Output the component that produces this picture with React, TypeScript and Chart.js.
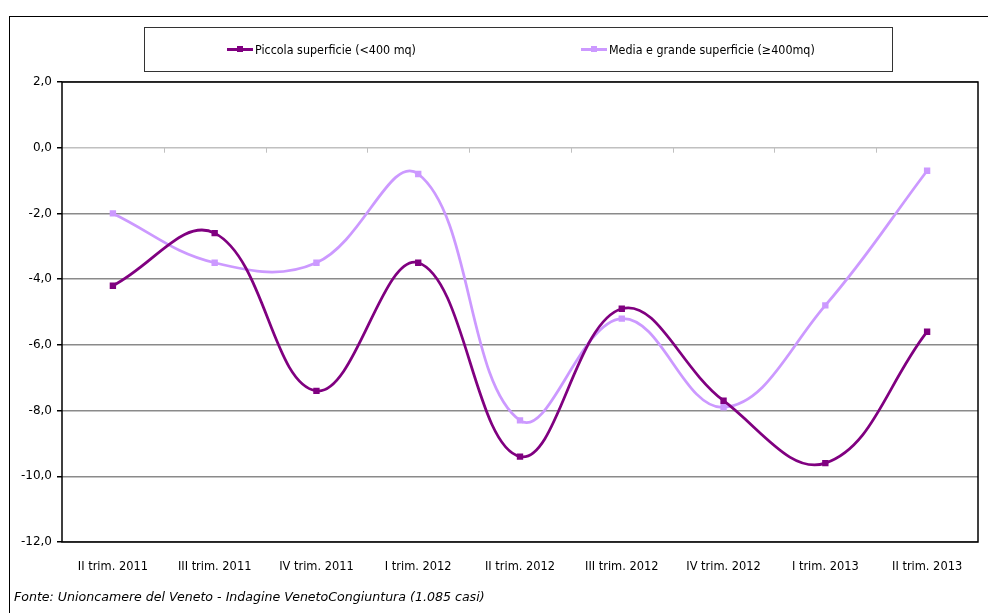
import React, { useEffect, useRef } from "react";
import { Chart, registerables } from "chart.js";

Chart.register(...registerables);

const categories = [
  "II trim. 2011",
  "III trim. 2011",
  "IV trim. 2011",
  "I trim. 2012",
  "II trim. 2012",
  "III trim. 2012",
  "IV trim. 2012",
  "I trim. 2013",
  "II trim. 2013",
];
const piccola = [-4.2, -2.6, -7.4, -3.5, -9.4, -4.9, -7.7, -9.6, -5.6];
const mediaGrande = [-2.0, -3.5, -3.5, -0.8, -8.3, -5.2, -7.9, -4.8, -0.7];
const seriesNames = ["Piccola superficie (<400 mq)", "Media e grande superficie (\u2265400mq)"];
const seriesColors = ["#800080", "#cc99ff"];
const footerText = "Fonte: Unioncamere del Veneto - Indagine VenetoCongiuntura (1.085 casi)";

const FONT_C = "'DejaVu Sans Condensed', 'DejaVu Sans', sans-serif";
const FONT = "'DejaVu Sans', sans-serif";

const framePlugin = {
  id: "frame",
  afterDatasetsDraw(chart: any) {
    const { ctx, chartArea, scales } = chart;
    const x = scales.x;
    const y = scales.y;
    ctx.save();
    const y0 = y.getPixelForValue(0);
    ctx.strokeStyle = "#c0c0c0";
    ctx.lineWidth = 1;
    for (let i = 0; i < categories.length - 1; i++) {
      const px = Math.round((x.getPixelForValue(i) + x.getPixelForValue(i + 1)) / 2) + 0.5;
      ctx.beginPath();
      ctx.moveTo(px, y0);
      ctx.lineTo(px, y0 + 5);
      ctx.stroke();
    }
    ctx.strokeStyle = "#000";
    ctx.lineWidth = 1.5;
    ctx.strokeRect(chartArea.left, chartArea.top, chartArea.right - chartArea.left, chartArea.bottom - chartArea.top);
    ctx.restore();
  },
};

function LegendItem({ color, label, left }: { color: string; label: string; left: number }) {
  return (
    <div style={{ position: "absolute", left, top: 40, height: 18, display: "flex", alignItems: "center" }}>
      <div style={{ position: "relative", width: 26, height: 18, marginRight: 2 }}>
        <div style={{ position: "absolute", left: 0, top: 7.5, width: 26, height: 3, background: color }} />
        <div style={{ position: "absolute", left: 10, top: 6, width: 6, height: 6, background: color }} />
      </div>
      <span style={{ font: `12.4px ${FONT_C}`, color: "#000", whiteSpace: "nowrap" }}>{label}</span>
    </div>
  );
}

export default function App() {
  const canvasRef = useRef<HTMLCanvasElement | null>(null);

  useEffect(() => {
    if (!canvasRef.current) return;
    const chart = new Chart(canvasRef.current, {
      type: "line",
      data: {
        labels: categories,
        datasets: [
          {
            label: seriesNames[0],
            data: piccola,
            borderColor: seriesColors[0],
            backgroundColor: seriesColors[0],
            borderWidth: 2.75,
            pointStyle: "rect",
            pointRadius: 4.5,
            pointBorderWidth: 0,
            tension: 0.4,
          },
          {
            label: seriesNames[1],
            data: mediaGrande,
            borderColor: seriesColors[1],
            backgroundColor: seriesColors[1],
            borderWidth: 2.75,
            pointStyle: "rect",
            pointRadius: 4.5,
            pointBorderWidth: 0,
            tension: 0.4,
          },
        ],
      },
      options: {
        animation: false,
        responsive: false,
        layout: { padding: { left: 0, top: 82, right: 10, bottom: 0 } },
        plugins: { legend: { display: false }, tooltip: { enabled: false } },
        scales: {
          x: {
            offset: true,
            grid: { display: false, drawTicks: false },
            border: { display: false },
            ticks: { color: "#000", font: { family: FONT_C, size: 12.7 }, padding: 17, maxRotation: 0, autoSkip: false },
            afterFit: (s: any) => {
              s.height = 71;
            },
          },
          y: {
            min: -12,
            max: 2,
            grid: {
              color: (c: any) => (c.tick && c.tick.value === 0 ? "#c0c0c0" : "#8a8a8a"),
              lineWidth: 1.5,
              tickColor: "#000",
              tickLength: 5,
            },
            border: { display: false },
            ticks: {
              stepSize: 2,
              color: "#000",
              padding: 5,
              font: { family: FONT, size: 12 },
              callback: (v: any) => Number(v).toFixed(1).replace(".", ","),
            },
            afterFit: (s: any) => {
              s.width = 62;
            },
          },
        },
      },
      plugins: [framePlugin],
    });
    return () => chart.destroy();
  }, []);

  return (
    <div style={{ position: "absolute", left: 0, top: 0, width: 988, height: 613, overflow: "hidden", background: "#fff" }}>
      <div style={{ position: "absolute", left: 9, top: 16, width: 1200, height: 1000, borderLeft: "1.5px solid #000", borderTop: "1.5px solid #000" }} />
      <canvas ref={canvasRef} width={988} height={613} style={{ position: "absolute", left: 0, top: 0, width: 988, height: 613 }} />
      <div style={{ position: "absolute", left: 144, top: 27, width: 747, height: 43, border: "1px solid #333" }} />
      <LegendItem color={seriesColors[0]} label={seriesNames[0]} left={227} />
      <LegendItem color={seriesColors[1]} label={seriesNames[1]} left={581} />
      <div style={{ position: "absolute", left: 14, top: 589, font: `italic 12.6px ${FONT}`, color: "#000", whiteSpace: "nowrap" }}>{footerText}</div>
    </div>
  );
}
